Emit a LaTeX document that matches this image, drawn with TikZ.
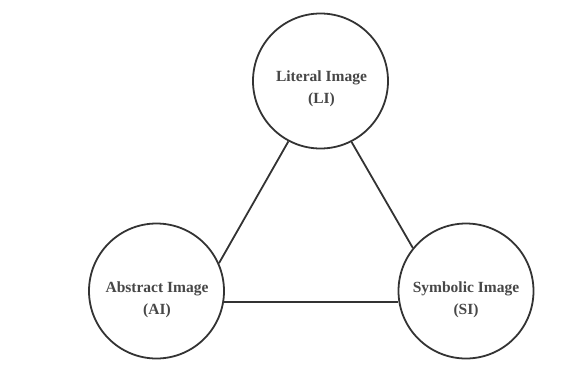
\documentclass[tikz,border=0pt]{standalone}
\usepackage{fontspec}
\setmainfont{Liberation Serif}
\begin{document}
\begin{tikzpicture}[x=1pt,y=-1pt,
  imagecircle/.style={circle,draw=black!80,line width=1.8pt,fill=white,
    minimum size=135pt,inner sep=0pt},
  imagetext/.style={font=\fontsize{15.5}{22}\selectfont\bfseries,text=black!72,align=center},
  link/.style={draw=black!80,line width=1.8pt}]
  \useasboundingbox (0,0) rectangle (569,376);
  % the three kinds of image
  \node[imagecircle] (li) at (320.5,81) {};
  \node[imagecircle] (ai) at (156.5,291) {};
  \node[imagecircle] (si) at (466,291) {};
  \node[imagetext] (litext) at (321.5,89) {Literal Image\\(LI)};
  \node[imagetext] (aitext) at (157,300) {Abstract Image\\(AI)};
  \node[imagetext] (sitext) at (466,300) {Symbolic Image\\(SI)};
  % relations between them
  \draw[link] (li.242.7) -- (ai.24.5);
  \draw[link] (li.297.3) -- (si.141);
  \draw[link] (ai.-9.3) -- (si.189.3);
\end{tikzpicture}
\end{document}
